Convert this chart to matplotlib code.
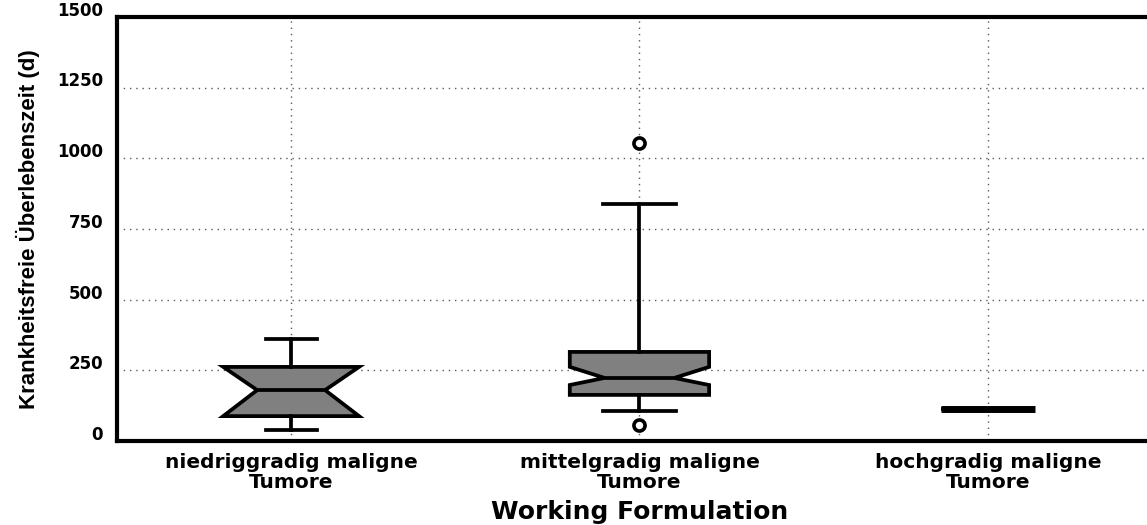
import matplotlib
matplotlib.use("Agg")
import matplotlib.pyplot as plt
import matplotlib.transforms as mtransforms
from matplotlib import font_manager

# box statistics (days)
categories = ["niedriggradig maligne\nTumore", "mittelgradig maligne\nTumore",
              "hochgradig maligne\nTumore"]
whisker_low = [39, 106, 113]
q1 = [88, 163, 113]
median = [180, 223, 113]
q3 = [262, 315, 113]
whisker_high = [361, 838, 113]
notch_low = [88, 198, 113]
notch_high = [262, 262, 113]
outliers = [[], [57, 1054], []]

y_ticks = [0, 250, 500, 750, 1000, 1250, 1500]


def has_font(name):
    return any(f.name == name for f in font_manager.fontManager.ttflist)


ylabel_family = "Liberation Sans Narrow" if has_font("Liberation Sans Narrow") else "Liberation Sans"
ylabel_size = 19 if ylabel_family == "Liberation Sans Narrow" else 16

stats = []
for i, cat in enumerate(categories):
    stats.append(dict(label=cat, whislo=whisker_low[i], q1=q1[i], med=median[i],
                      q3=q3[i], whishi=whisker_high[i], cilo=notch_low[i],
                      cihi=notch_high[i], fliers=outliers[i]))

fig = plt.figure(figsize=(11.47, 5.25), dpi=100)
ax = fig.add_axes([0.102, 0.160, 0.911, 0.808])

lw = 2.7
common = dict(patch_artist=True, showfliers=True, manage_ticks=False,
              boxprops=dict(facecolor="#808080", edgecolor="black", linewidth=lw),
              whiskerprops=dict(color="black", linewidth=lw),
              capprops=dict(color="black", linewidth=lw),
              flierprops=dict(marker="o", markersize=8, markerfacecolor="white",
                              markeredgecolor="black", markeredgewidth=2.6))

# notched boxes for the first two groups
ax.bxp(stats[:2], positions=[1, 2], widths=[0.39, 0.40], capwidths=[0.146, 0.21],
       shownotches=True, medianprops=dict(color="black", linewidth=lw), **common)
# last group collapses to a single value
ax.bxp(stats[2:], positions=[3], widths=[0.27], capwidths=[0.0],
       shownotches=False, medianprops=dict(color="black", linewidth=5), **common)

ax.set_xlim(0.5, 3.5)
ax.set_ylim(0, 1500)
ax.set_xticks([1, 2, 3])
ax.set_xticklabels(categories, fontsize=14.5, fontweight="bold",
                   family="DejaVu Sans", linespacing=1.0)
ax.set_yticks(y_ticks)
ax.set_yticklabels([str(v) for v in y_ticks], fontsize=12, fontweight="bold",
                   family="DejaVu Sans")
ax.tick_params(axis="both", length=0)
ax.tick_params(axis="y", pad=10)
ax.tick_params(axis="x", pad=9)

ax.set_axisbelow(True)
ax.grid(True, color="#5a5a5a", linestyle=(0, (1, 3.5)), linewidth=1.0)

for side in ["left", "bottom", "top"]:
    ax.spines[side].set_linewidth(3)
    ax.spines[side].set_color("black")
ax.spines["right"].set_visible(False)

ax.set_xlabel("Working Formulation", fontsize=18, fontweight="bold",
              family="DejaVu Sans", labelpad=6)
ax.set_ylabel("Krankheitsfreie Überlebenszeit (d)", fontsize=ylabel_size,
              fontweight="bold", family=ylabel_family, labelpad=12)

# y tick labels sit a little above their grid lines in the original
shift = mtransforms.ScaledTranslation(0, 8 / 100, fig.dpi_scale_trans)
for lab in ax.get_yticklabels():
    lab.set_transform(lab.get_transform() + shift)

fig.savefig("out.png", dpi=100, facecolor="white")
